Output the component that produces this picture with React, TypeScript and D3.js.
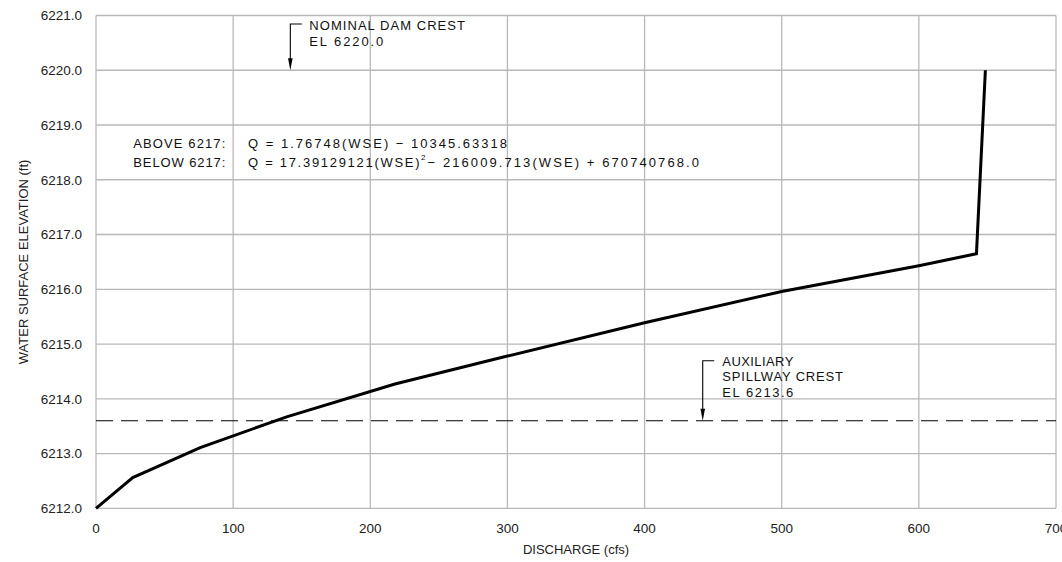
import React from "react";
import * as d3 from "d3";

// ---- data ----
const discharge = [0, 26.8, 76, 139, 218, 300, 400, 500, 600, 642, 648.5];
const elevation = [6212.0, 6212.56, 6213.11, 6213.67, 6214.27, 6214.78, 6215.39, 6215.96, 6216.43, 6216.65, 6220.0];
const xTicks = [0, 100, 200, 300, 400, 500, 600, 700];
const yTicks = [6212, 6213, 6214, 6215, 6216, 6217, 6218, 6219, 6220, 6221];
const damCrestElev = 6220.0;
const damCrestArrowQ = 141.7;
const spillwayElev = 6213.6;
const spillwayArrowQ = 442.4;
const damCrestLabel = ["NOMINAL DAM CREST", "EL 6220.0"];
const spillwayLabel = ["AUXILIARY", "SPILLWAY CREST", "EL 6213.6"];
const eqAbove = ["ABOVE 6217:", "Q = 1.76748(WSE) \u2212 10345.63318"];
const eqBelow = ["BELOW 6217:", "Q = 17.39129121(WSE)", "2", "\u2212 216009.713(WSE) + 670740768.0"];

const W = 1062;
const H = 562;
const left = 96, right = 1056, top = 15.5, bottom = 508.3;
const FONT = "'Liberation Sans', Arial, Helvetica, sans-serif";

export default function App() {
  const x = d3.scaleLinear().domain([0, 700]).range([left, right]);
  const y = d3.scaleLinear().domain([6212, 6221]).range([bottom, top]);
  const pts: [number, number][] = discharge.map((q, i) => [q, elevation[i]]);
  const line = d3.line<[number, number]>().x(d => x(d[0])).y(d => y(d[1]));
  const fmt = d3.format(".1f");

  const ax = x(damCrestArrowQ);
  const ay = y(damCrestElev);
  const sx = x(spillwayArrowQ);
  const sy = y(spillwayElev);

  const arrow = (px: number, py: number, topY: number) => (
    <g>
      <path d={`M${px + 11.5},${topY} H${px} V${py - 11}`} fill="none" stroke="#000" strokeWidth={1.1} />
      <path d={`M${px},${py} L${px - 2.3},${py - 12} L${px + 2.3},${py - 12} Z`} fill="#000" />
    </g>
  );

  const annoStyle = { fontFamily: FONT, fontSize: 13, fill: "#111" } as const;

  return (
    <svg width={W} height={H} style={{ position: "absolute", left: 0, top: 0, background: "#fff" }}>
      {/* grid */}
      <g stroke="#b8b8b8" strokeWidth={1.3}>
        {xTicks.map(t => (
          <line key={"gx" + t} x1={x(t)} x2={x(t)} y1={top} y2={bottom} />
        ))}
        {yTicks.map(t => (
          <line key={"gy" + t} x1={left} x2={right} y1={y(t)} y2={y(t)} />
        ))}
      </g>
      {/* tick labels */}
      <g style={{ fontFamily: FONT, fontSize: 13.5 }} fill="#222">
        {yTicks.map(t => (
          <text key={"ly" + t} x={82} y={y(t) + 4.8} textAnchor="end">{fmt(t)}</text>
        ))}
        {xTicks.map(t => (
          <text key={"lx" + t} x={x(t)} y={533} textAnchor="middle">{t}</text>
        ))}
      </g>
      <text x={(left + right) / 2} y={554} textAnchor="middle" style={{ fontFamily: FONT, fontSize: 13 }} fill="#222">DISCHARGE (cfs)</text>
      <text transform={`translate(27.5, ${(top + bottom) / 2}) rotate(-90)`} textAnchor="middle" style={{ fontFamily: FONT, fontSize: 13 }} fill="#222">WATER SURFACE ELEVATION (ft)</text>

      {/* spillway dashed line */}
      <line x1={left} x2={right} y1={sy} y2={sy} stroke="#000" strokeWidth={1.1} strokeDasharray="17,8" />

      {/* rating curve */}
      <path d={line(pts) || ""} fill="none" stroke="#000" strokeWidth={3} strokeLinejoin="miter" />

      {/* dam crest annotation */}
      {arrow(ax, ay, 24)}
      <text x={309.3} y={29.7} textLength={155.7} lengthAdjust="spacing" style={annoStyle}>{damCrestLabel[0]}</text>
      <text x={309.3} y={46} textLength={74} lengthAdjust="spacing" style={annoStyle}>{damCrestLabel[1]}</text>

      {/* spillway annotation */}
      {arrow(sx, sy, 360.7)}
      <text x={722.3} y={365.7} textLength={71} lengthAdjust="spacing" style={annoStyle}>{spillwayLabel[0]}</text>
      <text x={722.3} y={381} textLength={120.7} lengthAdjust="spacing" style={annoStyle}>{spillwayLabel[1]}</text>
      <text x={722.3} y={396.7} textLength={71} lengthAdjust="spacing" style={annoStyle}>{spillwayLabel[2]}</text>

      {/* equations */}
      <text x={133.3} y={147.8} textLength={92} lengthAdjust="spacing" style={annoStyle}>{eqAbove[0]}</text>
      <text x={248} y={147.8} textLength={259} lengthAdjust="spacing" style={annoStyle}>{eqAbove[1]}</text>
      <text x={133.3} y={167} textLength={92} lengthAdjust="spacing" style={annoStyle}>{eqBelow[0]}</text>
      <text x={248} y={167} textLength={171.5} lengthAdjust="spacing" style={annoStyle}>{eqBelow[1]}</text>
      <text x={421} y={160} style={{ fontFamily: FONT, fontSize: 8, fill: "#111" }}>{eqBelow[2]}</text>
      <text x={427.5} y={167} textLength={271.5} lengthAdjust="spacing" style={annoStyle}>{eqBelow[3]}</text>
    </svg>
  );
}
